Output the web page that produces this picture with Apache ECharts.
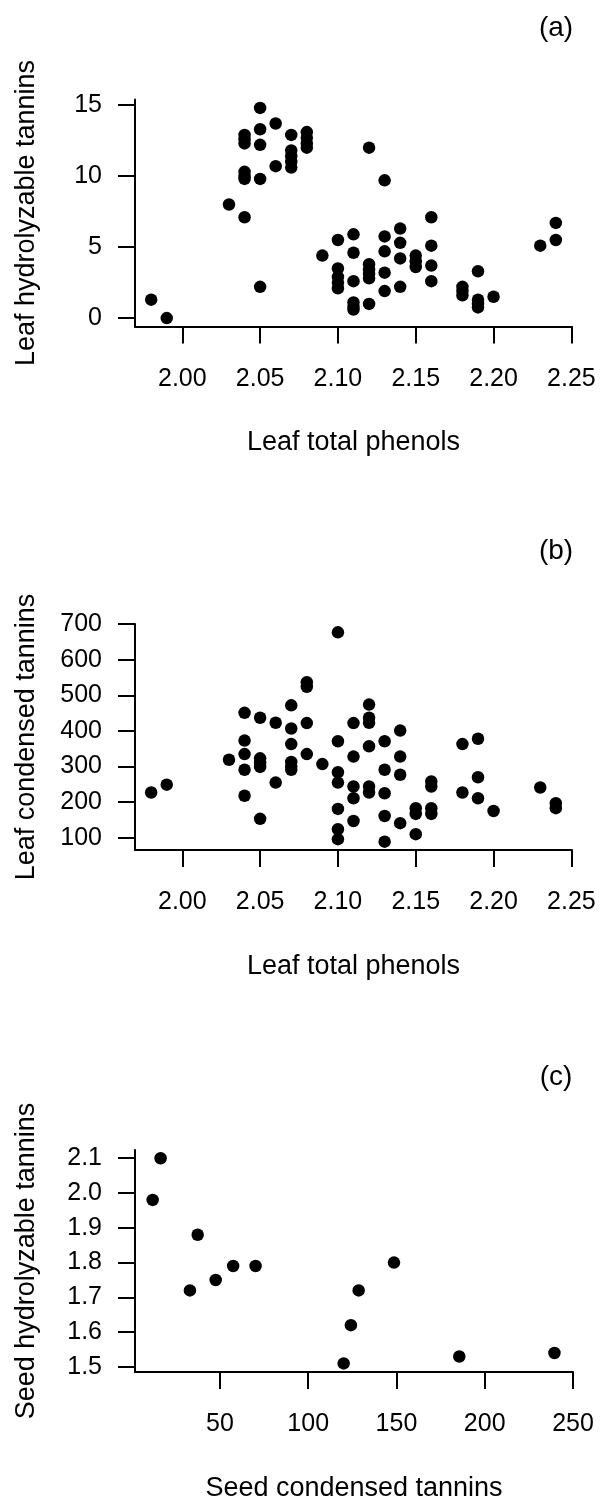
<!DOCTYPE html>
<html>
<head>
<meta charset="utf-8">
<script src="https://cdn.jsdelivr.net/npm/echarts@6/dist/echarts.min.js"></script>
<style>
html,body{margin:0;padding:0;background:#fff;}
#chart{width:600px;height:1503px;}
</style>
</head>
<body>
<div id="chart"></div>
<script>
// Panel (a): leaf total phenols vs leaf hydrolyzable tannins
const aX = [1.98,1.99,2.03,
  2.04,2.04,2.04,2.04,2.04,2.04,2.04,
  2.05,2.05,2.05,2.05,2.05,
  2.06,2.06,
  2.07,2.07,2.07,2.07,2.07,
  2.08,2.08,2.08,2.08,
  2.09,
  2.10,2.10,2.10,2.10,2.10,
  2.11,2.11,2.11,2.11,2.11,2.11,
  2.12,2.12,2.12,2.12,2.12,2.12,
  2.13,2.13,2.13,2.13,2.13,
  2.14,2.14,2.14,2.14,
  2.15,2.15,2.15,
  2.16,2.16,2.16,2.16,
  2.18,2.18,2.18,
  2.19,2.19,2.19,2.19,
  2.20,2.23,2.24,2.24];
const aY = [1.3,0.0,8.0,
  7.1,12.9,12.6,12.3,10.3,10.0,9.8,
  14.8,13.3,12.2,9.8,2.2,
  13.7,10.7,
  12.9,11.8,11.4,11.0,10.6,
  13.1,12.7,12.3,12.0,
  4.4,
  5.5,3.5,2.9,2.5,2.1,
  5.9,4.6,2.6,1.1,0.8,0.6,
  12.0,3.8,3.4,3.1,2.8,1.0,
  9.7,5.75,4.7,3.2,1.9,
  6.3,5.3,4.2,2.2,
  4.4,4.0,3.6,
  7.1,5.1,3.7,2.6,
  2.2,1.9,1.6,
  3.3,1.3,1.0,0.75,
  1.5,5.1,6.7,5.5];

// Panel (b): leaf total phenols vs leaf condensed tannins
const bX = [1.98,1.99,2.03,
  2.04,2.04,2.04,2.04,2.04,
  2.05,2.05,2.05,2.05,2.05,
  2.06,2.06,
  2.07,2.07,2.07,2.07,2.07,2.07,
  2.08,2.08,2.08,2.08,
  2.09,
  2.10,2.10,2.10,2.10,2.10,2.10,2.10,
  2.11,2.11,2.11,2.11,2.11,
  2.12,2.12,2.12,2.12,2.12,2.12,
  2.13,2.13,2.13,2.13,2.13,
  2.14,2.14,2.14,2.14,
  2.15,2.15,2.15,
  2.16,2.16,2.16,2.16,
  2.18,2.18,
  2.19,2.19,2.19,
  2.20,2.23,2.24,2.24];
const bY = [227,249,319,
  451,373,335,291,218,
  437,323,310,299,153,
  423,255,
  472,407,363,313,300,291,
  537,524,422,335,
  307,
  677,371,284,255,181,124,96,
  422,328,244,211,147,
  474,437,423,357,244,227,
  371,291,225,161,89,
  401,328,277,141,
  183,167,110,
  258,244,183,167,
  363,227,
  378,270,211,
  175,241,197,183];

// Panel (c): seed condensed tannins vs seed hydrolyzable tannins
const cX = [11.9,16.4,33.0,37.4,47.6,57.5,70.2,120.1,124.2,128.6,148.6,185.6,239.5];
const cY = [1.98,2.10,1.72,1.88,1.75,1.79,1.79,1.51,1.62,1.72,1.80,1.53,1.54];

// Tick labels
const phenolTicks = [2.00,2.05,2.10,2.15,2.20,2.25];
const hydroTicks = [0,5,10,15];
const condTicks = [100,200,300,400,500,600,700];
const seedCondTicks = [50,100,150,200,250];
const seedHydroTicks = [1.5,1.6,1.7,1.8,1.9,2.0,2.1];

const panelLabels = ['(a)','(b)','(c)'];
const xNames = ['Leaf total phenols','Leaf total phenols','Seed condensed tannins'];
const yNames = ['Leaf hydrolyzable tannins','Leaf condensed tannins','Seed hydrolyzable tannins'];

const FONT = "'Liberation Sans', Arial, sans-serif";
const TICK_FS = 25;
const NAME_FS = 27;

function xAxisCfg(idx, min, max, ticks, dec) {
  return {
    type: 'value', gridIndex: idx, min: min, max: max,
    position: 'bottom',
    splitLine: {show: false},
    axisLine: {show: true, onZero: false, lineStyle: {color: '#000', width: 2}},
    axisTick: {show: true, length: 17, customValues: ticks, lineStyle: {color: '#000', width: 2}},
    axisLabel: {show: true, customValues: ticks, margin: 40, color: '#000',
      fontSize: TICK_FS, fontFamily: FONT,
      formatter: v => Number(v).toFixed(dec)},
    name: xNames[idx], nameLocation: 'middle', nameGap: 103,
    nameTextStyle: {color: '#000', fontSize: NAME_FS, fontFamily: FONT}
  };
}
function yAxisCfg(idx, min, max, ticks, dec) {
  return {
    type: 'value', gridIndex: idx, min: min, max: max,
    position: 'left',
    splitLine: {show: false},
    axisLine: {show: true, onZero: false, lineStyle: {color: '#000', width: 2}},
    axisTick: {show: true, length: 17, customValues: ticks, lineStyle: {color: '#000', width: 2}},
    axisLabel: {show: true, customValues: ticks, margin: 33, color: '#000',
      fontSize: TICK_FS, fontFamily: FONT,
      formatter: v => Number(v).toFixed(dec)},
    name: yNames[idx], nameLocation: 'middle', nameGap: 95,
    nameTextStyle: {color: '#000', fontSize: NAME_FS, fontFamily: FONT}
  };
}
function pairs(xs, ys) { return xs.map((x, i) => [x, ys[i]]); }

const dotStyle = {color: '#000', opacity: 1};

const chart = echarts.init(document.getElementById('chart'), null, {renderer: 'canvas'});
chart.setOption({
  backgroundColor: '#fff',
  animation: false,
  grid: [
    {left: 135, top: 99.5, width: 437, height: 227},
    {left: 135, top: 624, width: 437, height: 226},
    {left: 135, top: 1150, width: 438, height: 224}
  ],
  xAxis: [
    xAxisCfg(0, 1.9696, 2.2504, phenolTicks, 2),
    xAxisCfg(1, 1.9696, 2.2504, phenolTicks, 2),
    xAxisCfg(2, 1.9, 250, seedCondTicks, 0)
  ],
  yAxis: [
    yAxisCfg(0, -0.592, 15.392, hydroTicks, 0),
    yAxisCfg(1, 65.5, 700.5, condTicks, 0),
    yAxisCfg(2, 1.4854, 2.1236, seedHydroTicks, 1)
  ],
  series: [
    {type: 'scatter', xAxisIndex: 0, yAxisIndex: 0, data: pairs(aX, aY), symbol: 'circle', symbolSize: 12.5, itemStyle: dotStyle},
    {type: 'scatter', xAxisIndex: 1, yAxisIndex: 1, data: pairs(bX, bY), symbol: 'circle', symbolSize: 12.5, itemStyle: dotStyle},
    {type: 'scatter', xAxisIndex: 2, yAxisIndex: 2, data: pairs(cX, cY), symbol: 'circle', symbolSize: 12.5, itemStyle: dotStyle}
  ],
  graphic: [
    {type: 'text', x: 556, y: 28, style: {text: panelLabels[0], fill: '#000', font: "28px 'Liberation Sans', Arial, sans-serif", textAlign: 'center', textVerticalAlign: 'middle'}},
    {type: 'text', x: 556, y: 551, style: {text: panelLabels[1], fill: '#000', font: "28px 'Liberation Sans', Arial, sans-serif", textAlign: 'center', textVerticalAlign: 'middle'}},
    {type: 'text', x: 556, y: 1077, style: {text: panelLabels[2], fill: '#000', font: "28px 'Liberation Sans', Arial, sans-serif", textAlign: 'center', textVerticalAlign: 'middle'}}
  ]
});
</script>
</body>
</html>
